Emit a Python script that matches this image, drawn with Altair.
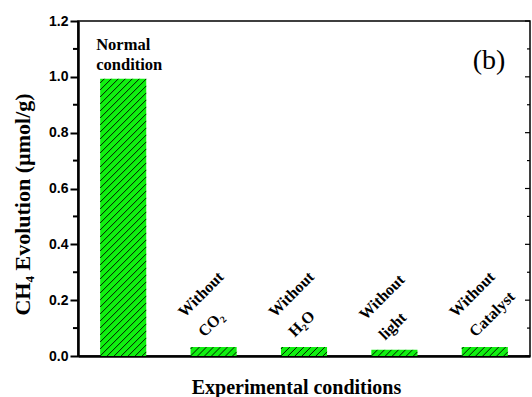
import altair as alt
import pandas as pd

# ---- data ----
categories = ["Normal condition", "Without CO2", "Without H2O", "Without light", "Without Catalyst"]
values = [0.993, 0.032, 0.032, 0.022, 0.032]
label_line1 = ["Normal", "Without", "Without", "Without", "Without"]
label_line2 = ["condition", "CO\u2082", "H\u2082O", "light", "Catalyst"]
major_ticks = [0.0, 0.2, 0.4, 0.6, 0.8, 1.0, 1.2]
minor_ticks = [0.1, 0.3, 0.5, 0.7, 0.9, 1.1]
panel_tag = ["(b)"]

# ---- layout / style constants ----
W, H = 452, 335
XDOM = [-0.5, 4.5]
YDOM = [0, 1.2]
HALF = 0.255           # half bar width in x units
GREEN = "#10f010"
px_x = W / (XDOM[1] - XDOM[0])
px_y = H / (YDOM[1] - YDOM[0])

df = pd.DataFrame({
    "cat": categories,
    "idx": list(range(len(categories))),
    "value": values,
    "l1": label_line1,
    "l2": label_line2,
})

# hatch segments derived from the bar values (45 degree lines, 7px spacing)
hatch_rows = []
spacing = 7.0
for i, v in enumerate(values):
    bw = 2 * HALF * px_x
    hpx = v * px_y
    c = -hpx + (hpx % spacing)
    while c < bw:
        py0 = max(0.0, -c)
        py1 = min(hpx, bw - c)
        if py1 > py0 + 0.5:
            hatch_rows.append({
                "x": i - HALF + (c + py0) / px_x, "y": py0 / px_y,
                "x2": i - HALF + (c + py1) / px_x, "y2": py1 / px_y,
            })
        c += spacing
hatch = pd.DataFrame(hatch_rows)

xs = alt.Scale(domain=XDOM, nice=False, zero=False)
ys = alt.Scale(domain=YDOM, nice=False)

base = alt.Chart(df)

bars = base.transform_calculate(
    x0="datum.idx - %f" % HALF, x1="datum.idx + %f" % HALF
).mark_rect(color=GREEN, stroke=None).encode(
    x=alt.X("x0:Q", scale=xs, axis=alt.Axis(
        title="Experimental conditions", labels=False, ticks=False, grid=False,
        domainColor="black", domainWidth=2.5,
        titleFont="Liberation Serif", titleFontSize=20, titleFontWeight="bold",
        titleColor="black", titlePadding=21, titleX=218)),
    x2="x1:Q",
    y=alt.Y("value:Q", scale=ys, axis=alt.Axis(
        title="CH\u2084 Evolution (\u00b5mol/g)", values=major_ticks, format=".1f",
        grid=False, domainColor="black", domainWidth=2.5,
        tickColor="black", tickWidth=2, tickSize=8, labelPadding=2,
        labelFont="Liberation Sans", labelFontSize=14, labelFontWeight="bold",
        labelColor="black",
        titleFont="Liberation Serif", titleFontSize=22, titleFontWeight="bold",
        titleColor="black", titleX=-44, titleY=183)),
    y2=alt.datum(0),
)

hatch_layer = alt.Chart(hatch).mark_rule(color="black", strokeWidth=0.9).encode(
    x=alt.X("x:Q", scale=xs), x2="x2:Q",
    y=alt.Y("y:Q", scale=ys), y2="y2:Q",
)

minor = alt.Chart(pd.DataFrame({"t": minor_ticks})).mark_rule(
    color="black", strokeWidth=2
).encode(
    y=alt.Y("t:Q", scale=ys), x=alt.value(-5), x2=alt.value(0),
)

right_major = alt.Chart(pd.DataFrame({"t": major_ticks})).mark_rule(
    color="black", strokeWidth=1.2
).encode(
    y=alt.Y("t:Q", scale=ys), x=alt.value(W - 5), x2=alt.value(W),
)
right_minor = alt.Chart(pd.DataFrame({"t": minor_ticks})).mark_rule(
    color="black", strokeWidth=1.2
).encode(
    y=alt.Y("t:Q", scale=ys), x=alt.value(W - 3), x2=alt.value(W),
)

normal_base = base.transform_filter("datum.idx == 0")
normal1 = normal_base.mark_text(
    align="left", baseline="alphabetic", dx=-27, dy=-29, fontSize=16.5,
    font="Liberation Serif", fontWeight="bold", color="black",
).encode(x=alt.X("idx:Q", scale=xs), y=alt.Y("value:Q", scale=ys), text="l1:N")
normal2 = normal_base.mark_text(
    align="left", baseline="alphabetic", dx=-27, dy=-9, fontSize=16.5,
    font="Liberation Serif", fontWeight="bold", color="black",
).encode(x=alt.X("idx:Q", scale=xs), y=alt.Y("value:Q", scale=ys), text="l2:N")

rot_base = base.transform_filter("datum.idx > 0")
rot1 = rot_base.mark_text(
    angle=315, align="left", baseline="alphabetic", dy=-41, fontSize=16,
    font="Liberation Serif", fontWeight="bold", color="black",
).encode(x=alt.X("idx:Q", scale=xs), y=alt.Y("value:Q", scale=ys), text="l1:N")
rot2 = rot_base.mark_text(
    angle=315, align="left", baseline="alphabetic", dy=-13, fontSize=16,
    font="Liberation Serif", fontWeight="bold", color="black",
).encode(x=alt.X("idx:Q", scale=xs), y=alt.Y("value:Q", scale=ys), text="l2:N")

tag = alt.Chart(pd.DataFrame({"t": panel_tag})).mark_text(
    align="center", baseline="alphabetic", font="Liberation Serif",
    fontSize=28, color="black",
).encode(x=alt.value(411), y=alt.value(48), text="t:N")

chart = alt.layer(bars, hatch_layer, minor, right_major, right_minor,
                  normal1, normal2, rot1, rot2, tag).properties(
    width=W, height=H,
    autosize=alt.AutoSizeParams(type="none"),
    padding={"left": 78, "top": 21, "right": 2, "bottom": 41},
    background="white",
).configure_view(stroke="black", strokeWidth=1.5)

chart.save("out.html", embed_options={"renderer": "svg", "actions": False})
